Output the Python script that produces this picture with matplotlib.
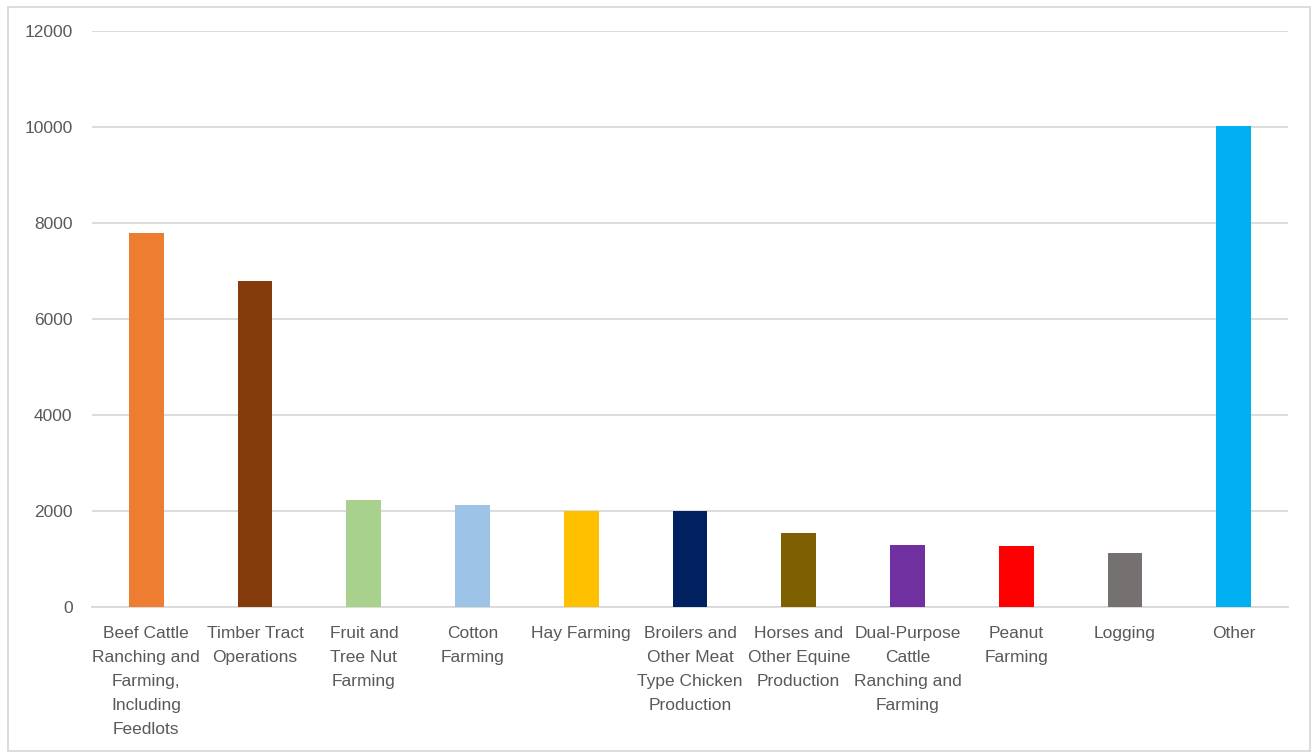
import matplotlib.pyplot as plt
from matplotlib.patches import Rectangle

# data
categories = [
    "Beef Cattle\nRanching and\nFarming,\nIncluding\nFeedlots",
    "Timber Tract\nOperations",
    "Fruit and\nTree Nut\nFarming",
    "Cotton\nFarming",
    "Hay Farming",
    "Broilers and\nOther Meat\nType Chicken\nProduction",
    "Horses and\nOther Equine\nProduction",
    "Dual-Purpose\nCattle\nRanching and\nFarming",
    "Peanut\nFarming",
    "Logging",
    "Other",
]
values = [7800, 6800, 2230, 2120, 1995, 1995, 1550, 1290, 1265, 1125, 10030]
colors = ["#ed7d31", "#843c0c", "#a9d18e", "#9dc3e6", "#ffc000", "#002060",
          "#7f6000", "#7030a0", "#ff0000", "#767171", "#00b0f0"]
yticks = [0, 2000, 4000, 6000, 8000, 10000, 12000]

plt.rcParams['font.family'] = ['Liberation Sans', 'DejaVu Sans']

fig = plt.figure(figsize=(13.13, 7.53), dpi=100)
ax = fig.add_axes([92/1313, 1 - 607/753, (1288 - 92)/1313, (607 - 31)/753])

x = range(len(categories))
ax.bar(x, values, width=0.32, color=colors, zorder=3)

ax.set_ylim(0, 12000)
ax.set_xlim(-0.5, len(categories) - 0.5)
ax.set_yticks(yticks)
ax.set_yticklabels([str(v) for v in yticks])
ax.set_xticks(list(x))
ax.set_xticklabels(categories, linespacing=1.76)

ax.grid(axis='y', color='#d9d9d9', linewidth=1.3, zorder=0)
for s in ['top', 'right', 'left']:
    ax.spines[s].set_visible(False)
ax.spines['bottom'].set_color('#d9d9d9')
ax.spines['bottom'].set_linewidth(1.3)
ax.tick_params(axis='both', length=0, labelsize=12.5, labelcolor='#595959')
ax.tick_params(axis='y', pad=14)
ax.tick_params(axis='x', pad=13.5)

# outer chart border
fig.patches.append(Rectangle((8/1313, 2/753), 1302/1313, 744/753,
                             transform=fig.transFigure, fill=False,
                             edgecolor='#d9d9d9', linewidth=1.3))

fig.savefig("out.png", dpi=100)
